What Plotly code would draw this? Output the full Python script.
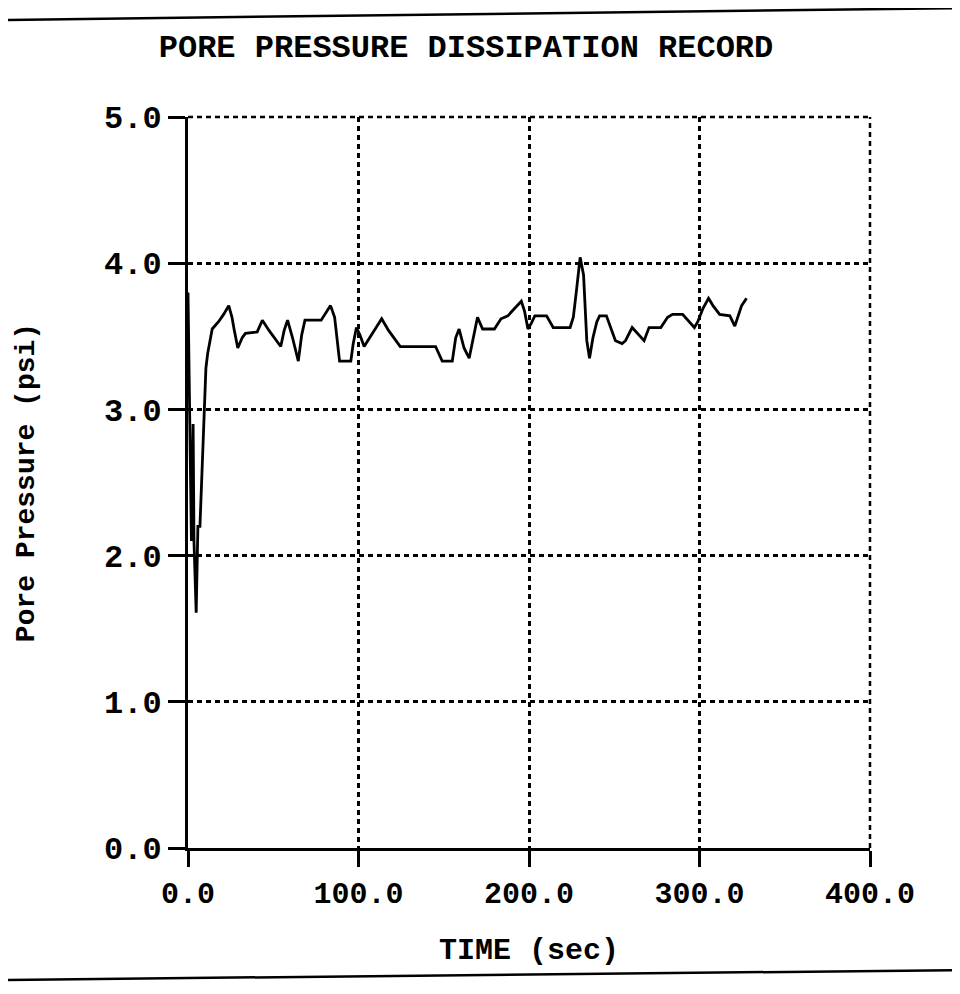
import plotly.graph_objects as go

# Data
time_sec = [0, 1.0, 2.0, 3.0, 3.5, 4.8, 5.8, 7.0, 8.3, 9.6, 10.5, 11.5, 13.4, 14.2, 17.9, 20.9, 23.9,
            25.8, 27.0, 29.2, 31.8, 33.7, 40.6, 43.6, 47.5, 54.4, 56.4, 58.4, 61.3, 64.7, 66.7,
            68.6, 78.1, 80.5, 83.6, 86.0, 88.0, 88.9, 95.5, 96.9, 98.8, 100.8, 103.3, 107.7,
            113.6, 117.6, 124.5, 145.2, 149.1, 155.0, 157.0, 159.0, 161.9, 164.9, 166.9, 169.8,
            172.8, 179.7, 183.6, 187.6, 191.5, 195.5, 197.4, 199.4, 201.4, 203.4, 210.3, 214.2,
            224.1, 226.0, 228.0, 229.0, 230.0, 232.0, 233.0, 233.9, 235.5, 237.5, 239.8, 241.4,
            245.4, 247.7, 250.7, 254.6, 256.6, 260.5, 263.5, 267.5, 270.4, 277.3, 281.3, 284.2,
            290.1, 297.0, 299.0, 302.0, 305.3, 307.9, 311.8, 317.8, 320.7, 322.7, 324.7, 327.6]
pore_pressure = [3.80, 2.95, 2.10, 2.90, 2.10, 1.61, 2.20, 2.20, 2.62, 3.01, 3.28, 3.38, 3.52, 3.55, 3.60, 3.65, 3.71,
                 3.63, 3.55, 3.42, 3.49, 3.52, 3.53, 3.61, 3.54, 3.43, 3.54, 3.61, 3.49, 3.33, 3.51,
                 3.61, 3.61, 3.65, 3.71, 3.63, 3.39, 3.33, 3.33, 3.45, 3.56, 3.51, 3.43, 3.51,
                 3.62, 3.54, 3.43, 3.43, 3.33, 3.33, 3.49, 3.55, 3.42, 3.35, 3.47, 3.63,
                 3.55, 3.55, 3.62, 3.64, 3.69, 3.74, 3.67, 3.55, 3.59, 3.64, 3.64, 3.56,
                 3.56, 3.63, 3.83, 3.95, 4.04, 3.92, 3.69, 3.47, 3.35, 3.49, 3.60, 3.64,
                 3.64, 3.56, 3.47, 3.45, 3.47, 3.56, 3.52, 3.47, 3.56, 3.56, 3.63, 3.65,
                 3.65, 3.56, 3.60, 3.69, 3.76, 3.71, 3.65, 3.64, 3.57, 3.64, 3.71, 3.76]

x_ticks = [0, 100, 200, 300, 400]
x_tick_labels = ["0.0", "100.0", "200.0", "300.0", "400.0"]
y_ticks = [0, 1, 2, 3, 4, 5]
y_tick_labels = ["0.0", "1.0", "2.0", "3.0", "4.0", "5.0"]

FONT = "Liberation Mono"
W, H = 960, 994
OFF = 8  # page body margin in the browser
L, R, T, B = 188 - OFF, 90 + OFF, 117 - OFF, 146 + OFF
PW, PH = W - L - R, H - T - B


def px_x(x):  # absolute page x -> paper coordinate
    return (x - OFF - L) / PW


def px_y(y):  # absolute page y -> paper coordinate
    return (H - B - (y - OFF)) / PH


fig = go.Figure()
fig.add_trace(go.Scatter(
    x=time_sec, y=pore_pressure, mode="lines",
    line=dict(color="black", width=2.8), showlegend=False, hoverinfo="skip"))

grid = dict(showgrid=True, gridcolor="black", griddash="5px,4px", gridwidth=2.5,
            zeroline=False, showline=True, linecolor="black", automargin=False)

fig.update_layout(
    width=W, height=H,
    paper_bgcolor="white", plot_bgcolor="white",
    margin=dict(l=L, r=R, t=T, b=B),
    font=dict(family=FONT, color="black", size=30, weight="bold"),
    title=dict(text="PORE PRESSURE DISSIPATION RECORD", x=(466 - OFF) / W, xanchor="center",
               y=1 - (46 - OFF) / H, yanchor="middle",
               font=dict(family=FONT, size=32, color="black", weight="bold")),
    xaxis=dict(
        range=[0, 400], tickvals=x_ticks, ticktext=x_tick_labels,
        linewidth=2.5,
        ticks="outside", ticklen=16, tickwidth=2.5, tickcolor="black",
        tickfont=dict(family=FONT, size=30, weight="bold"),
        title=dict(text="TIME (sec)", standoff=28,
                   font=dict(family=FONT, size=30, weight="bold")),
        **grid,
    ),
    yaxis=dict(
        range=[0, 5], tickvals=y_ticks, ticktext=y_tick_labels,
        linewidth=3,
        ticks="outside", ticklen=17, tickwidth=2.5, tickcolor="black",
        tickfont=dict(family=FONT, size=32, weight="bold"),
        title=dict(text="Pore Pressure (psi)", standoff=62,
                   font=dict(family=FONT, size=28, weight="bold")),
        **grid,
    ),
    shapes=[
        # scan frame rules
        dict(type="line", xref="paper", yref="paper",
             x0=px_x(0), x1=px_x(968), y0=px_y(20), y1=px_y(8),
             line=dict(color="black", width=2.5)),
        dict(type="line", xref="paper", yref="paper",
             x0=px_x(0), x1=px_x(968), y0=px_y(980), y1=px_y(970),
             line=dict(color="black", width=2.5)),
        # dotted top and right frame edges (grid at 5.0 and 400.0)
        dict(type="line", xref="paper", yref="paper", x0=0, x1=1, y0=1, y1=1,
             line=dict(color="black", width=2.5, dash="5px,4px")),
        dict(type="line", xref="paper", yref="paper", x0=1, x1=1, y0=0, y1=1,
             line=dict(color="black", width=2.5, dash="5px,4px")),
    ],
)

fig.write_html("out.html")
